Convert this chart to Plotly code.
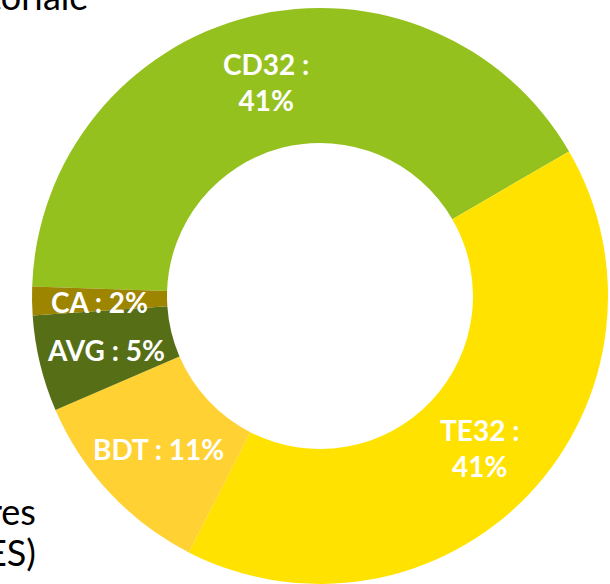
import math
import plotly.graph_objects as go

# ---- data ----
categories = ["CD32", "TE32", "BDT", "AVG", "CA"]
values = [41.1, 40.9, 11.0, 5.4, 1.6]
two_line = [True, True, False, False, False]
colors = ["#95C11F", "#FFE200", "#FFD133", "#566F17", "#9E8500"]

W, H = 610, 584
CX, CY = 320, 296          # donut centre in pixels (from top-left)
R_OUT, R_IN = 288, 153
START = -88.1              # where the first slice starts (deg clockwise from 12 o'clock)

dom_x = [(CX - R_OUT) / W, (CX + R_OUT) / W]
dom_y = [1 - (CY + R_OUT) / H, 1 - (CY - R_OUT) / H]

fig = go.Figure(go.Pie(
    labels=categories,
    values=values,
    marker=dict(colors=colors, line=dict(width=0)),
    hole=R_IN / R_OUT,
    sort=False,
    direction="clockwise",
    rotation=START,
    textinfo="none",
    hoverinfo="label+percent",
    showlegend=False,
    domain=dict(x=dom_x, y=dom_y),
))

# labels placed at the middle of each ring segment
total = sum(values)
acc = 0.0
r_lab = (R_IN + R_OUT) / 2
cxp = (dom_x[0] + dom_x[1]) / 2
cyp = (dom_y[0] + dom_y[1]) / 2
annotations = []
for cat, v, tl in zip(categories, values, two_line):
    mid = math.radians(START + (acc + v / 2) / total * 360)
    acc += v
    pct = f"{round(v / total * 100)}%"
    txt = f"{cat} :<br>{pct}" if tl else f"{cat} : {pct}"
    annotations.append(dict(
        x=cxp + r_lab * math.sin(mid) / W,
        y=cyp + r_lab * math.cos(mid) / H,
        xref="paper", yref="paper",
        text=f"<b>{txt}</b>", showarrow=False,
        xanchor="center", yanchor="middle", align="center",
        yshift=0 if tl else -2,
        font=dict(family="Lato", size=28, color="white"),
    ))

# fragments of surrounding slide text (cut off at the left edge)
side_font = dict(family="Lato", size=36, color="#000000")
annotations += [
    dict(x=90 / W, y=1 - 10 / H, xref="paper", yref="paper", text="toriale",
         showarrow=False, xanchor="right", yanchor="bottom", yshift=-10, font=side_font),
    dict(x=38 / W, y=1 - 525 / H, xref="paper", yref="paper", text="res",
         showarrow=False, xanchor="right", yanchor="bottom", yshift=-10, font=side_font),
    dict(x=38 / W, y=1 - 566 / H, xref="paper", yref="paper", text="ES)",
         showarrow=False, xanchor="right", yanchor="bottom", yshift=-10, font=side_font),
]

fig.update_layout(
    width=W, height=H,
    margin=dict(l=0, r=0, t=0, b=0),
    paper_bgcolor="white",
    plot_bgcolor="white",
    annotations=annotations,
)

fig.write_html("out.html", config={"displayModeBar": False},
               post_script="document.body.style.margin='0px';")
